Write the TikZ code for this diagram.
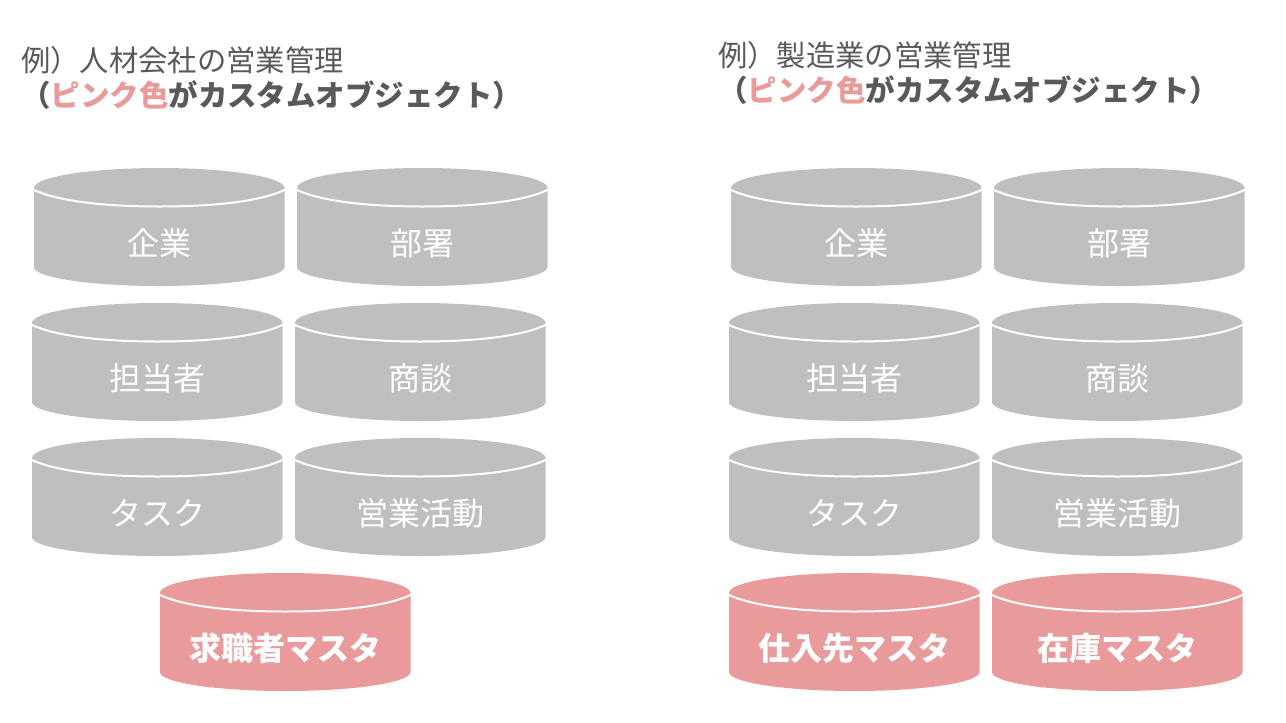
\documentclass[tikz,border=0pt]{standalone}
\usepackage{fontspec}
\setmainfont{Noto Sans CJK JP}
\definecolor{cylgray}{HTML}{BFBFBF}
\definecolor{cylpink}{HTML}{E99A9A}
\definecolor{titlegray}{HTML}{595959}
\tikzset{
  x=0.75pt,y=-0.75pt,
  cyllabel/.style={inner sep=0pt,text=white,font=\fontsize{24pt}{28pt}\selectfont},
  cylbold/.style={cyllabel,font=\fontsize{24pt}{28pt}\selectfont\bfseries},
  titletext/.style={inner sep=0pt,anchor=west,text=titlegray,font=\fontsize{22pt}{26pt}\selectfont},
  titlebold/.style={titletext,font=\fontsize{22.1pt}{26pt}\selectfont\bfseries},
}
% #1 name, #2 left x, #3 top y, #4 colour, #5 label style, #6 text
\newcommand{\cylin}[6]{%
  \fill[#4] (#2,#3+20) -- (#2,#3+99)
    arc[start angle=180,end angle=0,x radius=125.25,y radius=19]
    -- (#2+250.5,#3+20)
    arc[start angle=360,end angle=180,x radius=125.25,y radius=20] -- cycle;
  \draw[white,line width=1.5pt] (#2-1,#3+21.5)
    .. controls (#2+25,#3+34) and (#2+75,#3+38.5) .. (#2+125.25,#3+38.5)
    .. controls (#2+176,#3+38.5) and (#2+226,#3+34) .. (#2+251.5,#3+21.5);
  \node[#5] (#1) at (#2+125.5,#3+75.5) {#6};
}
\begin{document}
\begin{tikzpicture}
\useasboundingbox (0,0) rectangle (1286,722);
\node[titletext] (t1a) at (21,60) {例）人材会社の営業管理};
\node[titlebold] (t1b) at (21,95.5) {（\textcolor{cylpink}{ピンク色}がカスタムオブジェクト）};
\node[titletext] (t2a) at (718,55) {例）製造業の営業管理};
\node[titlebold] (t2b) at (718,90.5) {（\textcolor{cylpink}{ピンク色}がカスタムオブジェクト）};
\cylin{a1}{34}{168}{cylgray}{cyllabel}{企業}
\cylin{a2}{297}{168}{cylgray}{cyllabel}{部署}
\cylin{a3}{32}{303}{cylgray}{cyllabel}{担当者}
\cylin{a4}{295}{303}{cylgray}{cyllabel}{商談}
\cylin{a5}{32}{438}{cylgray}{cyllabel}{タスク}
\cylin{a6}{295}{438}{cylgray}{cyllabel}{営業活動}
\cylin{a7}{160}{573}{cylpink}{cylbold}{求職者マスタ}
\cylin{b1}{731}{168}{cylgray}{cyllabel}{企業}
\cylin{b2}{994}{168}{cylgray}{cyllabel}{部署}
\cylin{b3}{729}{303}{cylgray}{cyllabel}{担当者}
\cylin{b4}{992}{303}{cylgray}{cyllabel}{商談}
\cylin{b5}{729}{438}{cylgray}{cyllabel}{タスク}
\cylin{b6}{992}{438}{cylgray}{cyllabel}{営業活動}
\cylin{b7}{729}{573}{cylpink}{cylbold}{仕入先マスタ}
\cylin{b8}{992}{573}{cylpink}{cylbold}{在庫マスタ}
\end{tikzpicture}
\end{document}
